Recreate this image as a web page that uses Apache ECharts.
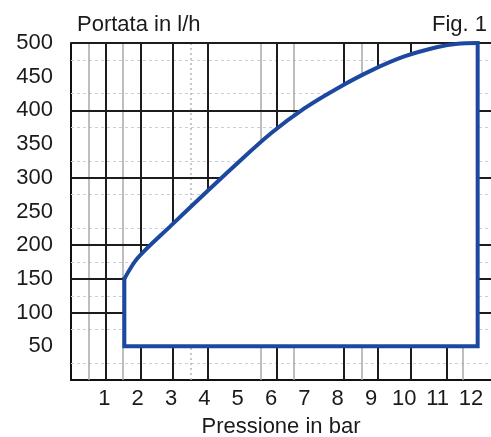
<!DOCTYPE html>
<html>
<head>
<meta charset="utf-8">
<script src="https://cdn.jsdelivr.net/npm/echarts@6/dist/echarts.min.js"></script>
<style>
  html, body { margin: 0; padding: 0; background: #fff; }
  #chart { width: 491px; height: 437px; }
</style>
</head>
<body>
<div id="chart"></div>
<script>
// Upper flow limit (l/h) against pressure (bar)
const pressure = [1.6, 2, 3, 4, 5, 6, 7, 8, 9, 10, 11, 11.6, 12.2];
const flowMax  = [150, 181, 229, 276, 322, 366, 403, 433, 459, 480, 494, 499, 500];
// Lower flow limit (l/h)
const flowMin = 50;

// Chart-paper grid lines, in axis units
const majorLinesX  = [1.05, 2.1, 3.06, 4.11, 6.16, 8.17, 9.19, 10.18, 11.26];
const minorLinesX  = [0.54, 1.56, 5.68, 6.67, 8.71, 11.74];
const dottedLinesX = [3.6];
const majorLinesY  = [100, 150, 200, 300, 400, 500];
const faintLinesY  = [25, 75, 125, 175, 225, 275, 325, 375, 425, 475];

const pMin = pressure[0];
const pMax = pressure[pressure.length - 1];

// Closed outline of the working area: lower limit, left edge, curve, right edge
const outline = [[pMin, flowMin]]
  .concat(pressure.map((p, i) => [p, flowMax[i]]))
  .concat([[pMax, flowMin]]);

const FONT = '"Liberation Sans", Arial, Helvetica, sans-serif';
const TEXT = '#1a1a1a';
const BLUE = '#1c48a0';

function gridLines(name, lines, axis, style) {
  return {
    name: name,
    type: 'line',
    data: [],
    silent: true,
    z: 1,
    markLine: {
      z: 1,
      silent: true,
      symbol: ['none', 'none'],
      label: { show: false },
      emphasis: { disabled: true },
      animation: false,
      lineStyle: style,
      data: lines.map(v => ({ [axis]: v }))
    }
  };
}

const chart = echarts.init(document.getElementById('chart'), null, { renderer: 'canvas' });

chart.setOption({
  animation: false,
  backgroundColor: '#fff',
  grid: { left: 71, right: 0, top: 43, bottom: 57, containLabel: false, outerBoundsMode: 'none' },
  graphic: [
    { type: 'text', left: 77, top: 14,
      style: { text: 'Portata in l/h', font: '22px ' + FONT, fill: TEXT } },
    { type: 'text', right: 4, top: 14,
      style: { text: 'Fig. 1', font: '22px ' + FONT, fill: TEXT } }
  ],
  xAxis: {
    type: 'value', min: 0, max: 12.6, interval: 1,
    name: 'Pressione in bar', nameLocation: 'middle', nameGap: 36,
    nameTextStyle: { fontSize: 22, fontFamily: FONT, color: TEXT },
    axisLine: { show: true, lineStyle: { color: '#111', width: 2 } },
    axisTick: { show: false },
    splitLine: { show: false },
    axisLabel: {
      fontSize: 22, fontFamily: FONT, color: TEXT, margin: 8,
      formatter: v => (v > 0 && Number.isInteger(v) && v <= 12) ? String(v) : ''
    }
  },
  yAxis: {
    type: 'value', min: 0, max: 500, interval: 50,
    axisLine: { show: true, lineStyle: { color: '#111', width: 2 } },
    axisTick: { show: false },
    splitLine: { show: false },
    axisLabel: {
      fontSize: 22, fontFamily: FONT, color: TEXT, margin: 18,
      formatter: v => v > 0 ? String(v) : ''
    }
  },
  series: [
    gridLines('faintY', faintLinesY, 'yAxis', { color: '#c9cddd', width: 1, type: [3, 3] }),
    gridLines('dottedX', dottedLinesX, 'xAxis', { color: '#b4b4b4', width: 1.5, type: [2, 3] }),
    gridLines('minorX', minorLinesX, 'xAxis', { color: '#a8a8a8', width: 1.5, type: 'solid' }),
    gridLines('majorX', majorLinesX, 'xAxis', { color: '#1c1c1c', width: 2, type: 'solid' }),
    gridLines('majorY', majorLinesY, 'yAxis', { color: '#1c1c1c', width: 2, type: 'solid' }),
    // white interior of the working area, hiding the grid behind it
    {
      name: 'fill',
      type: 'custom',
      z: 6,
      silent: true,
      encode: { x: 0, y: 1 },
      data: outline,
      renderItem: function (params, api) {
        if (params.dataIndex !== 0) return { type: 'group', children: [] };
        return {
          type: 'polygon',
          shape: { points: outline.map(pt => api.coord(pt)) },
          style: { fill: '#ffffff', stroke: '#ffffff', lineWidth: 2 }
        };
      }
    },
    // upper flow limit
    {
      name: 'upper',
      type: 'line',
      z: 7,
      silent: true,
      symbol: 'none',
      smooth: 0.3,
      lineStyle: { color: BLUE, width: 4 },
      data: pressure.map((p, i) => [p, flowMax[i]])
    },
    // left edge, lower limit and right edge
    {
      name: 'edges',
      type: 'line',
      z: 8,
      silent: true,
      symbol: 'none',
      lineStyle: { color: BLUE, width: 4, join: 'miter', cap: 'square' },
      data: [
        [pMin, flowMax[0]],
        [pMin, flowMin],
        [pMax, flowMin],
        [pMax, flowMax[flowMax.length - 1]]
      ]
    }
  ]
});
</script>
</body>
</html>
